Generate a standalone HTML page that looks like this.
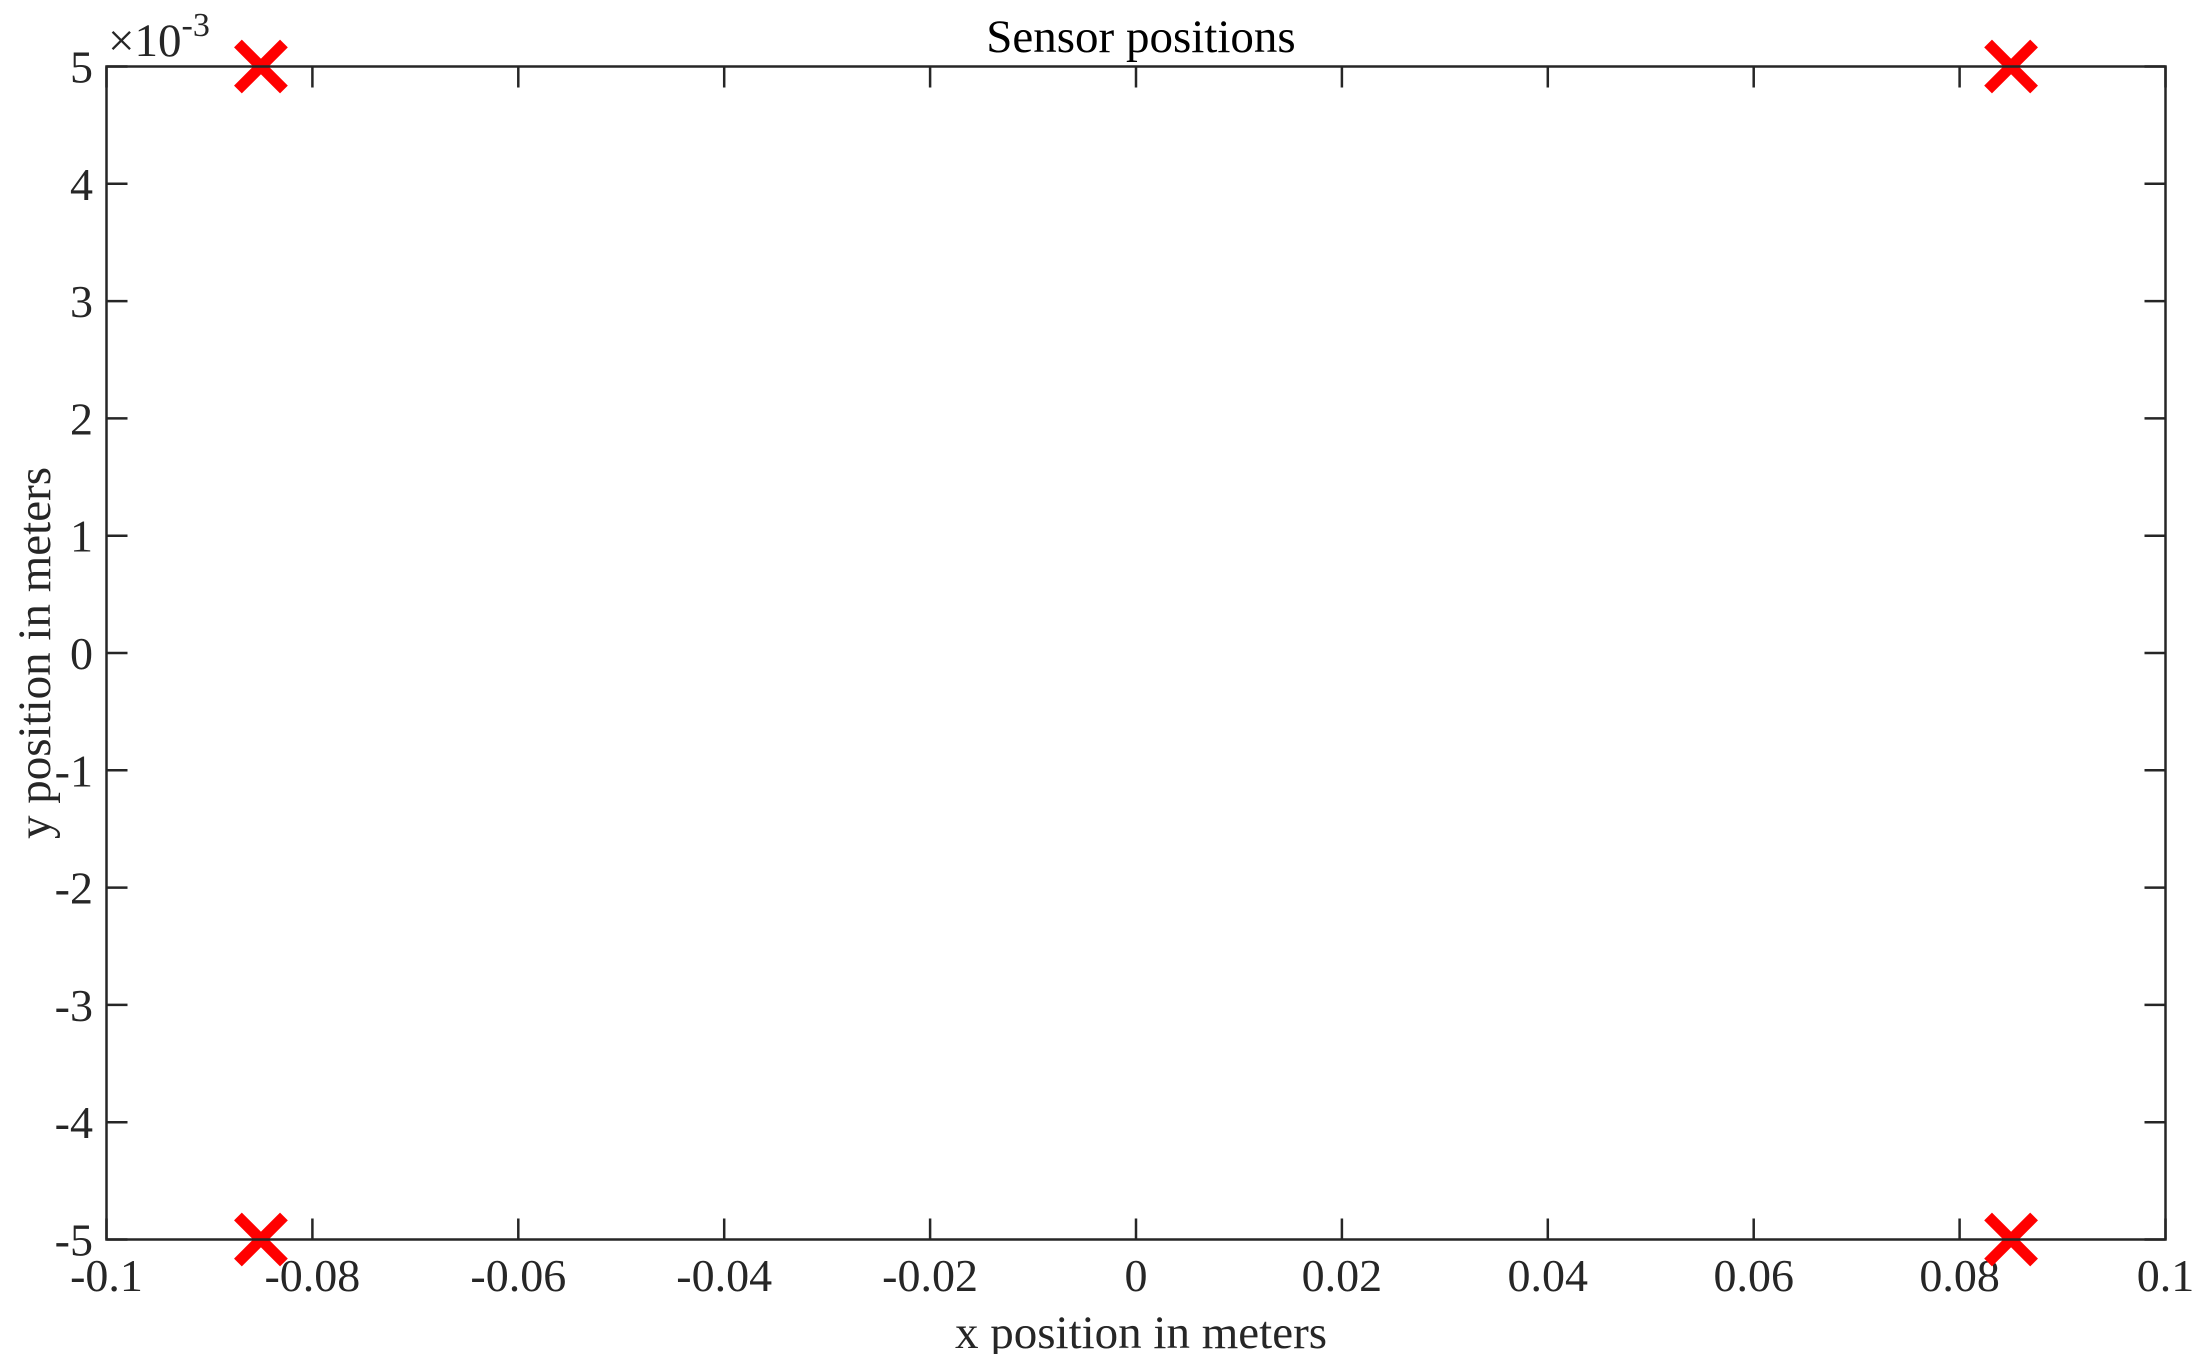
<!DOCTYPE html>
<html><head><meta charset="utf-8"><style>
html,body{margin:0;padding:0;background:#fff;}
svg{display:block;font-family:"Liberation Serif",serif;}
</style></head><body>
<svg id="chart" width="2205" height="1354" viewBox="0 0 2205 1354" xmlns="http://www.w3.org/2000/svg">
<rect width="2205" height="1354" fill="#fff"/>
<g id="ticks"></g>
<g id="marks"></g>
<rect x="106.5" y="66.5" width="2059" height="1173" fill="none" stroke="#262626" stroke-width="2.5"/>
<text x="1141" y="52" font-size="47" text-anchor="middle" fill="#000">Sensor positions</text>
<text x="1141" y="1348" font-size="47" text-anchor="middle" fill="#262626">x position in meters</text>
<text transform="translate(50,653) rotate(-90)" font-size="47" text-anchor="middle" fill="#262626">y position in meters</text>
<text x="108" y="56" font-size="47" fill="#262626">×10<tspan font-size="34" dy="-20">-3</tspan></text>
</svg>
<script>
const xTicks=[-0.1,-0.08,-0.06,-0.04,-0.02,0,0.02,0.04,0.06,0.08,0.1];
const xTickLabels=["-0.1","-0.08","-0.06","-0.04","-0.02","0","0.02","0.04","0.06","0.08","0.1"];
const yTicks=[-5,-4,-3,-2,-1,0,1,2,3,4,5];
const yTickLabels=["-5","-4","-3","-2","-1","0","1","2","3","4","5"];
const sensorX=[-0.085,0.085,-0.085,0.085];
const sensorY=[5,5,-5,-5];
const L=106.5,R=2165.5,T=66.5,B=1239.5;
function xs(v){return L+(v+0.1)/0.2*(R-L);}
function ys(v){return B-(v+5)/10*(B-T);}
const NS="http://www.w3.org/2000/svg";
const tg=document.getElementById('ticks'),mg=document.getElementById('marks');
function mk(tag,attrs,parent){const e=document.createElementNS(NS,tag);for(const k in attrs)e.setAttribute(k,attrs[k]);parent.appendChild(e);return e;}
xTicks.forEach((v,i)=>{
  const x=xs(v);
  const a=mk('line',{x1:x,x2:x,y1:B,y2:B-21,stroke:'#262626','stroke-width':2.5},tg);
  
  
  const b=mk('line',{x1:x,x2:x,y1:T,y2:T+21,stroke:'#262626','stroke-width':2.5},tg);
  
  
  const t=mk('text',{x:x,y:1291,'font-size':46,'text-anchor':'middle',fill:'#262626'},tg);
  t.textContent=xTickLabels[i];
  
  
});
yTicks.forEach((v,i)=>{
  const y=ys(v);
  const a=mk('line',{x1:L,x2:L+21,y1:y,y2:y,stroke:'#262626','stroke-width':2.5},tg);
  
  
  const b=mk('line',{x1:R,x2:R-21,y1:y,y2:y,stroke:'#262626','stroke-width':2.5},tg);
  
  
  const t=mk('text',{x:93,y:y+16,'font-size':46,'text-anchor':'end',fill:'#262626'},tg);
  t.textContent=yTickLabels[i];
  
  
});
sensorX.forEach((v,i)=>{
  const x=xs(v),y=ys(sensorY[i]),h=23;
  const p=mk('path',{d:`M${x-h},${y-h}L${x+h},${y+h}M${x-h},${y+h}L${x+h},${y-h}`,stroke:'#ff0000','stroke-width':11,fill:'none'},mg);
  
  
});
</script>
</body></html>
